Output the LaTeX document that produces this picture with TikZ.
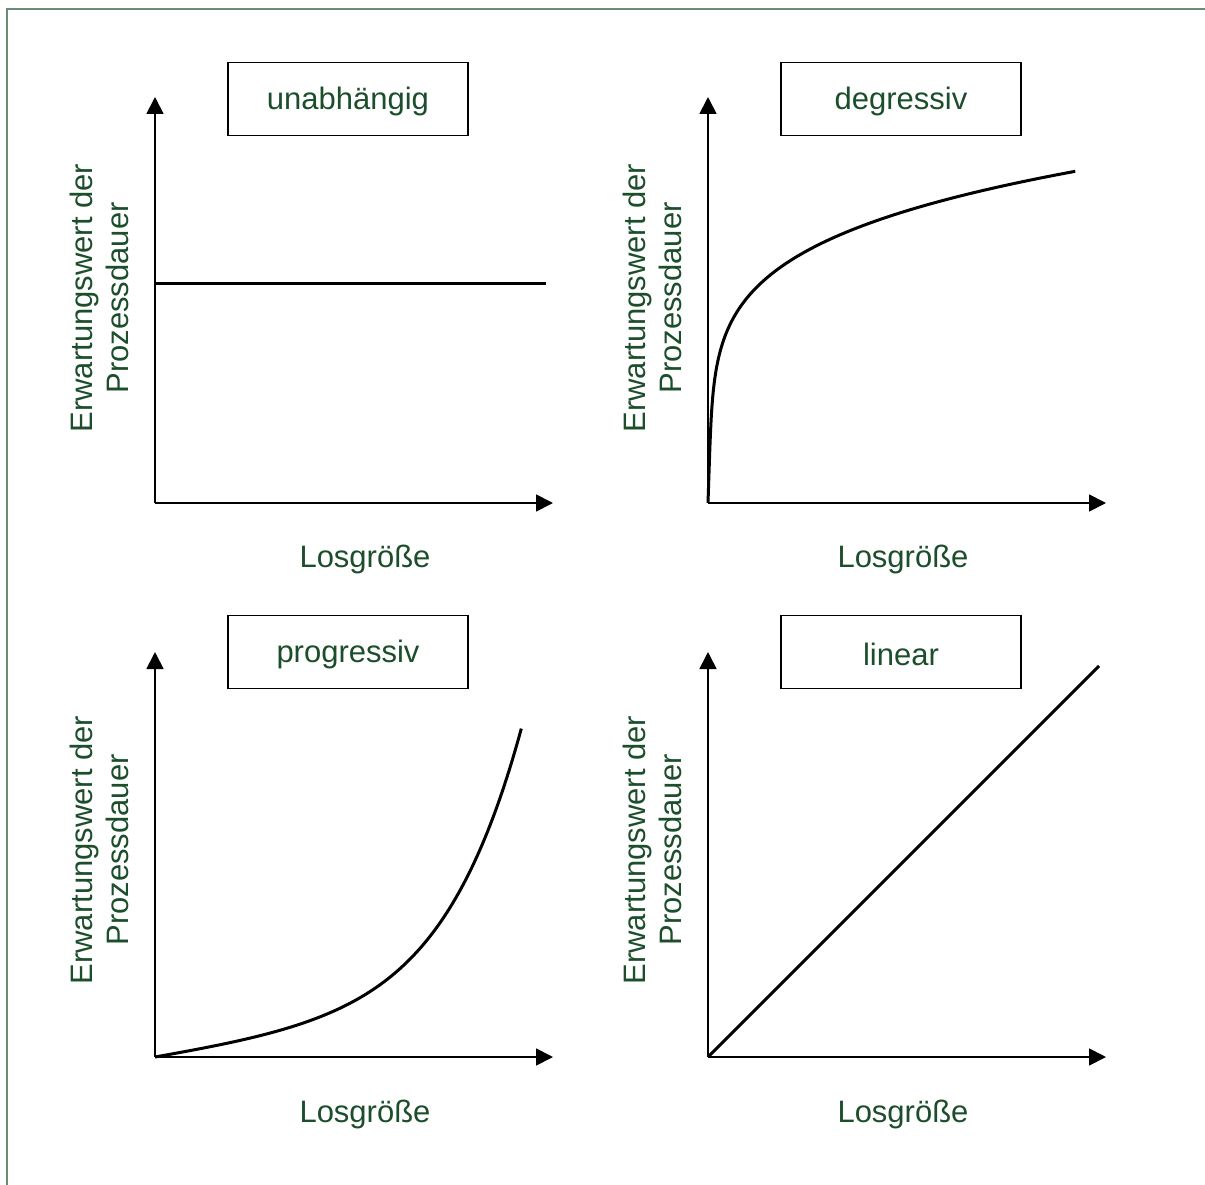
\documentclass[tikz,border=0pt]{standalone}
\usepackage{fontspec}
\setmainfont{Liberation Sans}
\usetikzlibrary{arrows.meta}
\definecolor{labelgreen}{RGB}{28,78,44}
\definecolor{framegreen}{RGB}{105,140,118}
\begin{document}
\begin{tikzpicture}[x=1pt,y=-1pt,
  axis/.style={line width=1.8pt,-{Triangle[length=17pt,width=17pt]}},
  curve/.style={line width=3pt,line join=round},
  titlebox/.style={draw,line width=1.5pt,minimum width=240pt,minimum height=73pt,
    font=\fontsize{31}{36}\selectfont,text=labelgreen},
  axlabel/.style={font=\fontsize{31}{36}\selectfont,text=labelgreen,align=center},
  ylabel/.style={axlabel,rotate=90}]
\useasboundingbox (0,0) rectangle (1205,1185);
% outer frame (top and left edges)
\draw[framegreen,line width=2pt] (7,1185) -- (7,9) -- (1205,9);

% ---------- unabhaengig ----------
\coordinate (o1) at (155,503);
\coordinate (y1) at (155,97);
\coordinate (x1) at (553,503);
\draw[axis] (o1) -- (y1);
\draw[axis] (o1) -- (x1);
\node[titlebox] (t1) at (348,99) {};
\node[axlabel] at ([yshift=-2pt]t1.center) {unabhängig};
\node[ylabel] (l1) at (99,298) {Erwartungswert der\\Prozessdauer};
\node[axlabel] (b1) at (365,559) {Losgröße};
\coordinate (c1a) at (155,283);
\coordinate (c1b) at (546,283);
\draw[curve] (c1a) -- (c1b);

% ---------- degressiv ----------
\coordinate (o2) at (708,503);
\coordinate (y2) at (708,97);
\coordinate (x2) at (1106,503);
\draw[axis] (o2) -- (y2);
\draw[axis] (o2) -- (x2);
\node[titlebox] (t2) at (901,99) {};
\node[axlabel] at ([yshift=-2pt]t2.center) {degressiv};
\node[ylabel] (l2) at (652,298) {Erwartungswert der\\Prozessdauer};
\node[axlabel] (b2) at (903,559) {Losgröße};
\draw[curve] (o2) plot[domain=0:1,samples=200,variable=\t]
  ({708+369*(0.03*\t+0.97*\t*\t*\t*\t*\t)},{503-332*\t});

% ---------- progressiv ----------
\coordinate (o3) at (155,1057);
\coordinate (y3) at (155,652);
\coordinate (x3) at (553,1057);
\draw[axis] (o3) -- (y3);
\draw[axis] (o3) -- (x3);
\node[titlebox] (t3) at (348,652) {};
\node[axlabel] at ([yshift=-2pt]t3.center) {progressiv};
\node[ylabel] (l3) at (99,850) {Erwartungswert der\\Prozessdauer};
\node[axlabel] (b3) at (365,1114) {Losgröße};
\draw[curve] (o3) plot[domain=0:1,samples=150,variable=\t]
  ({155+367*\t},{1057-331*(0.2*\t+0.3*\t*\t*\t+0.5*\t*\t*\t*\t*\t*\t)});

% ---------- linear ----------
\coordinate (o4) at (708,1057);
\coordinate (y4) at (708,652);
\coordinate (x4) at (1106,1057);
\draw[axis] (o4) -- (y4);
\draw[axis] (o4) -- (x4);
\node[titlebox] (t4) at (901,652) {};
\node[axlabel] at ([yshift=-2pt]t4.center) {linear};
\node[ylabel] (l4) at (652,850) {Erwartungswert der\\Prozessdauer};
\node[axlabel] (b4) at (903,1114) {Losgröße};
\coordinate (c4) at (1099,666);
\draw[curve] (o4) -- (c4);
\end{tikzpicture}
\end{document}
